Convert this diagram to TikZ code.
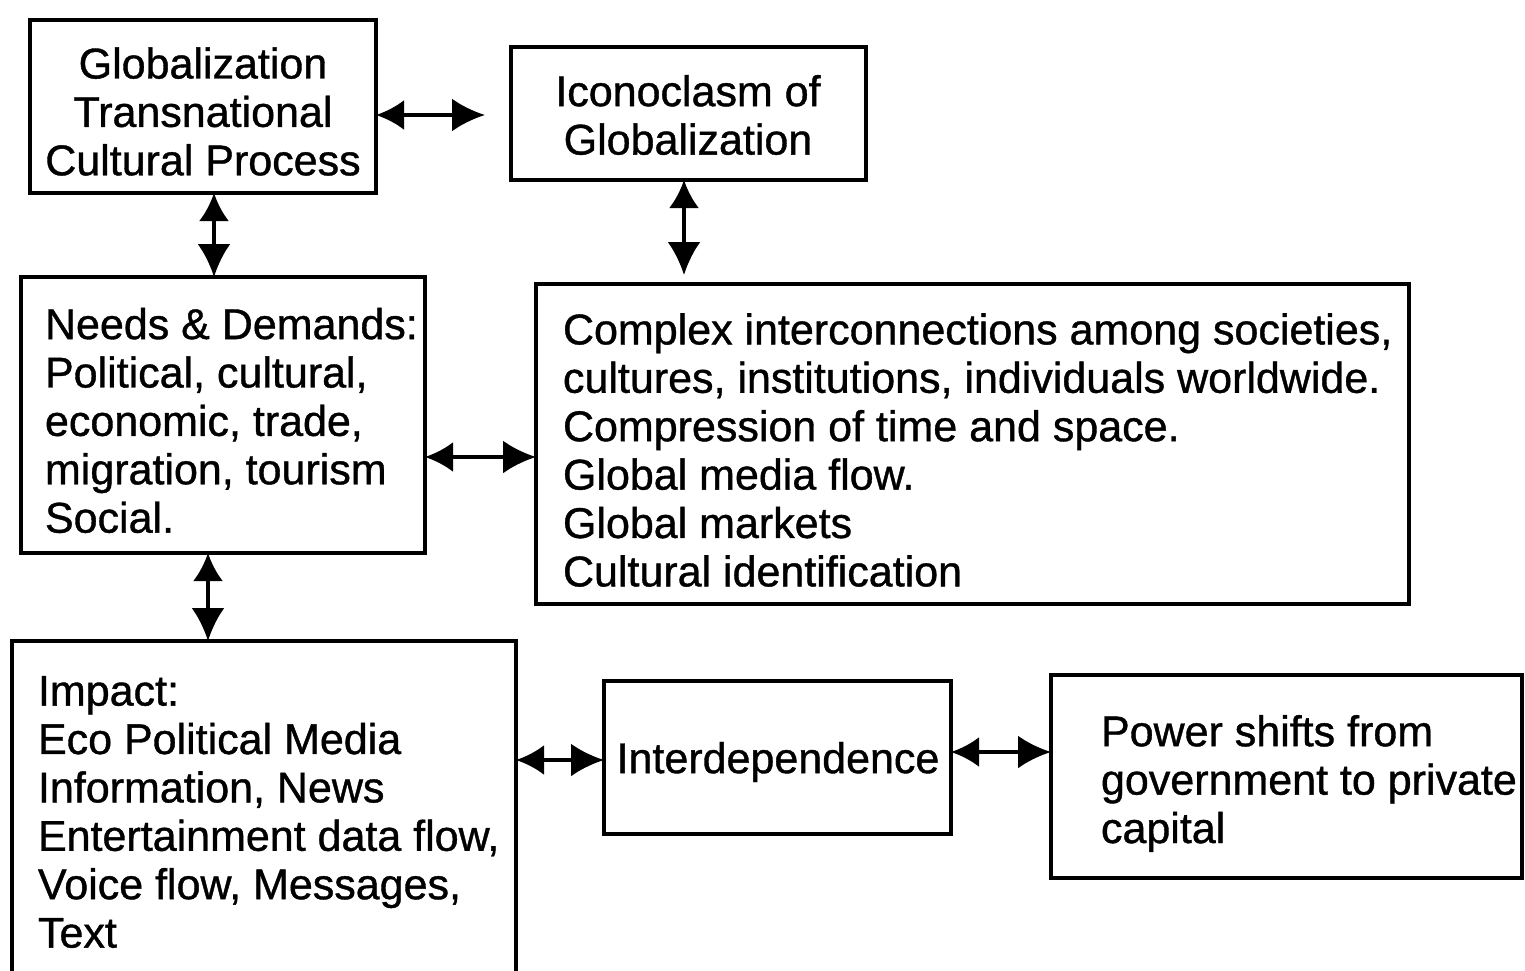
\documentclass[tikz,border=0pt]{standalone}
\usepackage{fontspec}
\setmainfont{Liberation Sans}[FakeBold=0.9]
\usetikzlibrary{arrows.meta}
\begin{document}
\begin{tikzpicture}[x=1pt,y=-1pt,
  box/.style={draw=black, line width=3.8pt, inner sep=0pt, outer sep=0pt, anchor=north west},
  txt/.style={inner sep=0pt, outer sep=0pt, font=\fontsize{43}{48.4}\selectfont},
  dbl/.style={line width=3.8pt, {Latex[length=28pt,width=30pt]}-{Latex[length=33pt,width=33pt]}}]
\clip (0,0) rectangle (1525,971);
\fill[white] (0,0) rectangle (1525,971);

% boxes
\node[box, minimum width=346pt, minimum height=173pt] (A) at (30,20) {};
\node[box, minimum width=355pt, minimum height=133pt] (B) at (511,47) {};
\node[box, minimum width=404pt, minimum height=276pt] (C) at (21,277) {};
\node[box, minimum width=873pt, minimum height=320pt] (D) at (536,284) {};
\node[box, minimum width=504pt, minimum height=369pt] (E) at (12,641) {};
\node[box, minimum width=347pt, minimum height=153pt] (F) at (604,681) {};
\node[box, minimum width=471pt, minimum height=203pt] (G) at (1051,675) {};

% texts
\node[txt, align=center] (At) at (203,111.5) {Globalization\\Transnational\\Cultural Process};
\node[txt, align=center] (Bt) at (688,115) {Iconoclasm of\\Globalization};
\node[txt, align=left, anchor=west] (Ct) at (45,420.5) {Needs \& Demands:\\Political, cultural,\\economic, trade,\\migration, tourism\\Social.};
\node[txt, align=left, anchor=west] (Dt) at (563,450) {Complex interconnections among societies,\\cultures, institutions, individuals worldwide.\\Compression of time and space.\\Global media flow.\\Global markets\\Cultural identification};
\node[txt, align=left, anchor=west] (Et) at (38,812) {Impact:\\Eco Political Media\\Information, News\\Entertainment data flow,\\Voice flow, Messages,\\Text};
\node[txt] (Ft) at (778,762) {Interdependence};
\node[txt, align=left, anchor=west] (Gt) at (1101,783.5) {Power shifts from\\government to private\\capital};

% connector guide points
\coordinate (abtip) at (485,115);
\coordinate (acx) at (214,0);
\coordinate (bdtip) at (684,275);
\coordinate (cdy) at (0,457);
\coordinate (cex) at (208,0);
\coordinate (efy) at (0,760);
\coordinate (fgy) at (0,752);

% connectors
\draw[dbl] (A.east |- abtip) -- (abtip);
\draw[dbl] (A.south -| acx) -- (C.north -| acx);
\draw[dbl] (B.south -| bdtip) -- (bdtip);
\draw[dbl] (C.east |- cdy) -- (D.west |- cdy);
\draw[dbl] (C.south -| cex) -- (E.north -| cex);
\draw[dbl] (E.east |- efy) -- (F.west |- efy);
\draw[dbl] (F.east |- fgy) -- (G.west |- fgy);
\end{tikzpicture}
\end{document}
